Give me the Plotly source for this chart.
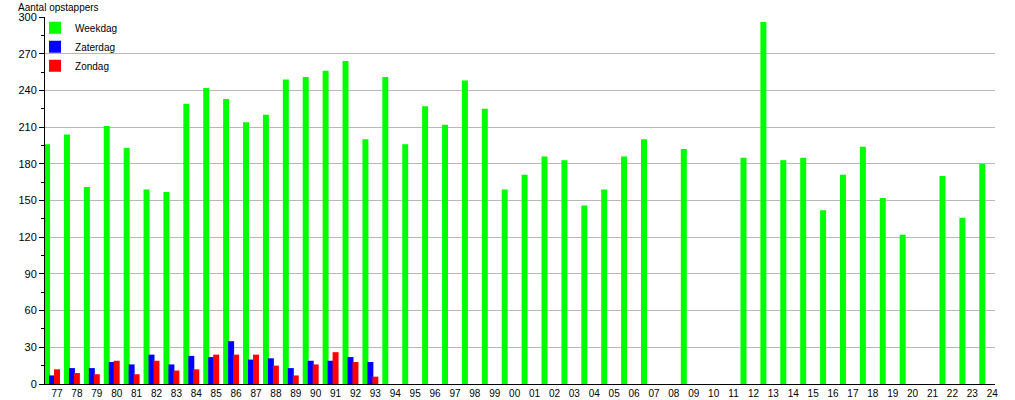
import plotly.graph_objects as go

years = ["77", "78", "79", "80", "81", "82", "83", "84", "85", "86", "87", "88",
         "89", "90", "91", "92", "93", "94", "95", "96", "97", "98", "99", "00",
         "01", "02", "03", "04", "05", "06", "07", "08", "09", "10", "11", "12",
         "13", "14", "15", "16", "17", "18", "19", "20", "21", "22", "23", "24"]

weekdag = [196, 204, 161, 211, 193, 159, 157, 229, 242, 233, 214, 220,
           249, 251, 256, 264, 200, 251, 196, 227, 212, 248, 225, 159,
           171, 186, 183, 146, 159, 186, 200, None, 192, None, None, 185,
           296, 183, 185, 142, 171, 194, 152, 122, None, 170, 136, 180]

zaterdag = [7, 13, 13, 18, 16, 24, 16, 23, 22, 35, 20, 21, 13, 19, 19, 22, 18] + [None] * 31
zondag = [12, 9, 8, 19, 8, 19, 11, 12, 24, 24, 24, 15, 7, 16, 26, 18, 6] + [None] * 31

series = [
    ("Weekdag", weekdag, "#00ff00", -0.65),
    ("Zaterdag", zaterdag, "#0000ff", -0.40),
    ("Zondag", zondag, "#ff0000", -0.15),
]

fig = go.Figure()
for name, vals, color, off in series:
    fig.add_trace(go.Bar(
        x=years, y=vals, name=name,
        marker=dict(color=color, line=dict(width=0)),
        offset=off, width=0.30,
    ))

font = "Liberation Sans, Arial, sans-serif"
fig.update_layout(
    width=1015, height=400, autosize=False,
    barmode="overlay",
    plot_bgcolor="white", paper_bgcolor="white",
    margin=dict(l=45, r=20, t=17, b=16, autoexpand=False),
    font=dict(family=font, size=10, color="black"),
    title=dict(text="Aantal opstappers", x=18 / 1015, xref="container", xanchor="left",
               y=1 - 7 / 400, yref="container", yanchor="middle",
               font=dict(family=font, size=10, color="black")),
    showlegend=True,
    legend=dict(x=-0.0105, y=1.01, xanchor="left", yanchor="top",
                bgcolor="rgba(0,0,0,0)", font=dict(family=font, size=10, color="black"),
                tracegroupgap=0),
    xaxis=dict(type="category", range=[-0.603, 47.14], showgrid=False,
               showline=True, linecolor="black", linewidth=1,
               ticks="", tickfont=dict(size=10), zeroline=False),
    yaxis=dict(range=[0, 300], dtick=30, tick0=0, showgrid=True, gridcolor="#b8b8b8",
               gridwidth=1, showline=True, linecolor="black", linewidth=1,
               ticks="outside", ticklen=5, tickcolor="black", tickfont=dict(size=11),
               zeroline=False,
               minor=dict(dtick=15, ticks="outside", ticklen=3, tickcolor="black", showgrid=False)),
)

fig.write_html("out.html", config={"displayModeBar": False},
               post_script="document.body.style.margin='0';")
